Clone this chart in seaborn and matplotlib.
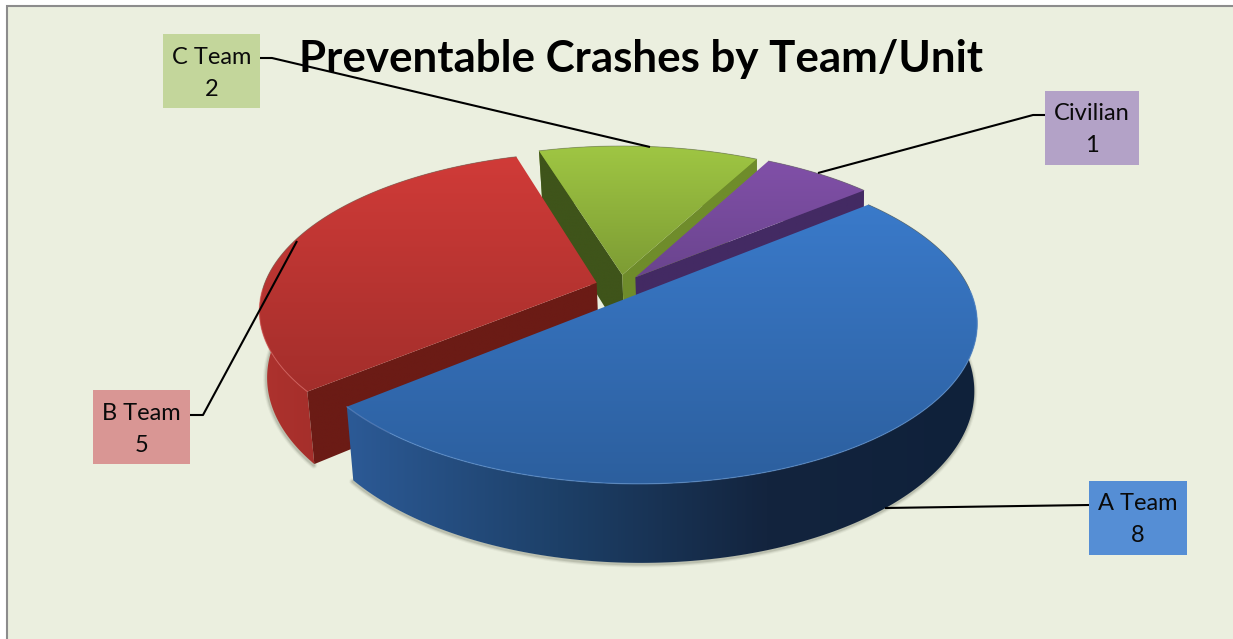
import numpy as np
import matplotlib
matplotlib.use("Agg")
import matplotlib.pyplot as plt
from matplotlib.colors import LinearSegmentedColormap, to_rgb
from matplotlib.patches import Polygon, Rectangle
import seaborn as sns

# Crash counts per team, clockwise from the upper right of the pie
teams = ["A Team", "B Team", "C Team", "Civilian"]
crashes = [8, 5, 2, 1]

title_text = "Preventable Crashes by Team/Unit"

top_light = ["#3A7ACA", "#D03B38", "#9FC643", "#8150A8"]
top_dark = ["#2C5F9E", "#A32E2B", "#7D9C34", "#6A448E"]
rim_colors = [
    ["#2C5A96", "#1D4068", "#13243E", "#0F213A"],
    ["#AE322E", "#A02D29", "#94281F", "#8C2622"],
    ["#6F8C2B", "#55701F"],
    ["#5A3A7A", "#432A63"],
]
face_start = ["#1E3E68", "#6B1B15", "#3F541A", "#432A63"]
face_end = ["#1E3E68", "#6B1B15", "#6F8C2B", "#432A63"]
label_fill = ["#558ED5", "#D99694", "#C3D69B", "#B3A2C7"]

box_left = [1089, 93, 163, 1045]
box_top = [481, 390, 34, 91]
box_width = [98, 97, 97, 94]
leader_paths = [
    [(1089, 505), (885, 508)],
    [(190, 415), (203, 415), (297, 241)],
    [(260, 58), (272, 58), (650, 147)],
    [(1045, 115), (1033, 115), (818, 173)],
]

sns.set_theme(style="white")
plt.rcParams["font.family"] = ["Lato", "DejaVu Sans"]

# Projection of the tilted disc onto the page
CX, CY = 620.0, 286.0
RX, RY = 333.0, 154.0
PERSPECTIVE = 0.168
THICKNESS = 65.0
BOTTOM_SHRINK = 0.985
SHRINK_CENTER = 775.0
EXPLODE = 0.0735
FIRST_ANGLE = 39.5


def project(x, y, z):
    w = 1 + PERSPECTIVE * y
    sx = CX + RX * x / w
    sx = SHRINK_CENTER + (sx - SHRINK_CENTER) * (1 - (1 - BOTTOM_SHRINK) * z)
    sy = CY - (RY * y - THICKNESS * z) / w
    return np.column_stack([sx, sy])


def gradient_fill(ax, pts, colors, horizontal, zorder):
    x0, y0 = pts.min(axis=0)
    x1, y1 = pts.max(axis=0)
    cmap = LinearSegmentedColormap.from_list("g", [to_rgb(c) for c in colors])
    ramp = np.linspace(0, 1, 256)
    ramp = ramp[None, :] if horizontal else ramp[:, None]
    im = ax.imshow(ramp, cmap=cmap, extent=(x0, x1, y1, y0), aspect="auto",
                   zorder=zorder, interpolation="bilinear", origin="upper")
    patch = Polygon(pts, closed=True, transform=ax.transData, fc="none", ec="none")
    ax.add_patch(patch)
    im.set_clip_path(patch)


fig = plt.figure(figsize=(12.33, 6.39), dpi=100, facecolor="white")
ax = fig.add_axes([0, 0, 1, 1])
ax.set_axis_off()

# Chart area with its grey frame on the top and left
ax.add_patch(Rectangle((7, 5.5), 1300, 700, fc="#EBEFDF", ec="#8C8C8C", lw=1.5, zorder=0))

total = sum(crashes)
sweeps = [360.0 * v / total for v in crashes]
starts = FIRST_ANGLE - np.cumsum([0] + sweeps[:-1])

# Painter's order: far slices first, the large near slice last
draw_order = [2, 3, 1, 0]
for step, i in enumerate(draw_order):
    base = 10 + step * 10
    start = starts[i]
    end = start - sweeps[i]
    mid = np.radians((start + end) / 2)
    ox, oy = EXPLODE * np.cos(mid), EXPLODE * np.sin(mid)
    th = np.radians(np.linspace(start, end, 200))
    ring_x, ring_y = ox + np.cos(th), oy + np.sin(th)

    arc_top = project(ring_x, ring_y, 0)
    arc_bot = project(ring_x, ring_y, 1)
    apex_top = project(np.array([ox]), np.array([oy]), 0)
    apex_bot = project(np.array([ox]), np.array([oy]), 1)

    # Soft shadow under the rim
    for lw, alpha in [(5, 0.06), (3.5, 0.10), (2, 0.16)]:
        ax.plot(arc_bot[:, 0] - 0.5, arc_bot[:, 1] + 1.2, color="#4A4F3C", lw=lw, alpha=alpha,
                zorder=base, solid_capstyle="round")

    # Curved rim
    gradient_fill(ax, np.vstack([arc_top, arc_bot[::-1]]), rim_colors[i], True, base + 1)

    # Flat cut faces, only where they turn towards the viewer
    if np.sin(np.radians(start + 90)) < 0:
        gradient_fill(ax, np.vstack([apex_top, arc_top[:1], arc_bot[:1], apex_bot]),
                      [face_start[i], face_start[i]], True, base + 2)
    if np.sin(np.radians(end - 90)) < 0:
        gradient_fill(ax, np.vstack([apex_top, arc_top[-1:], arc_bot[-1:], apex_bot]),
                      [face_end[i], face_end[i]], True, base + 2)

    # Top surface
    gradient_fill(ax, np.vstack([apex_top, arc_top]), [top_light[i], top_dark[i]], False, base + 3)

    # Bevel: bright along the near edge, a grey hairline along the far edge
    near = ring_y < -0.02
    highlight = np.array(to_rgb(top_light[i])) * 0.8 + 0.2
    if near.any():
        ax.plot(arc_top[near, 0], arc_top[near, 1], color=highlight, lw=0.9, alpha=0.55, zorder=base + 4)
    if (~near).any():
        ax.plot(arc_top[~near, 0], arc_top[~near, 1], color="#6E7264", lw=0.7, alpha=0.5, zorder=base + 4)

ax.text(641, 59, title_text, ha="center", va="center", fontsize=31.6,
        fontweight="bold", color="black", zorder=60)

for team, count, fill, left, top, width, path in zip(teams, crashes, label_fill, box_left, box_top, box_width, leader_paths):
    ax.plot(*zip(*path), color="black", lw=1.5, zorder=55, solid_capstyle="butt")
    ax.add_patch(Rectangle((left, top), width, 74, fc=fill, ec="none", zorder=56))
    ax.text(left + width / 2, top + 23, team, ha="center", va="center", fontsize=17, color="#0A0A0A", zorder=57)
    ax.text(left + width / 2, top + 55, str(count), ha="center", va="center", fontsize=17, color="#0A0A0A", zorder=57)

ax.set_xlim(0, 1233)
ax.set_ylim(639, 0)
fig.savefig("out.png", dpi=100, facecolor="white")
